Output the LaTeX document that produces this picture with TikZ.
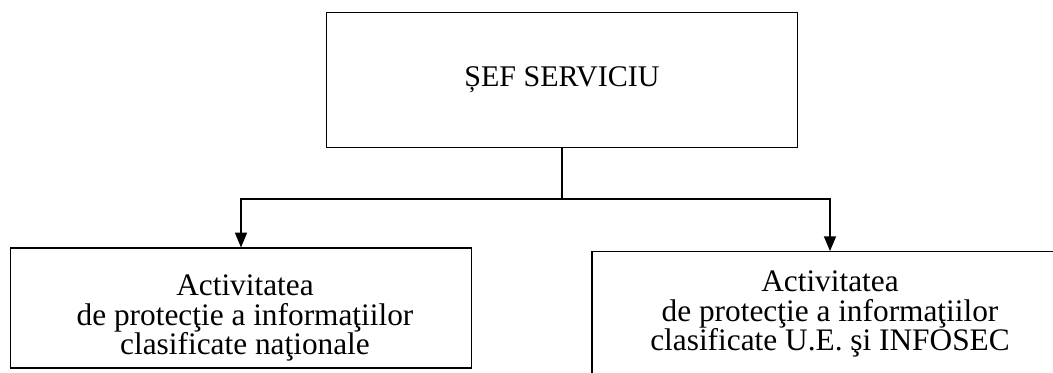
\documentclass[tikz,border=0pt]{standalone}
\usepackage{fontspec}
\setmainfont{Liberation Serif}
\usepackage{tikz}
\usetikzlibrary{arrows.meta,positioning}

\tikzset{
  unitbox/.style={draw, line width=0.9pt, rectangle, align=center, inner sep=0pt},
  unittext/.style={align=center, font=\fontsize{23.5}{21.8}\selectfont},
  link/.style={line width=0.9pt},
  arrowlink/.style={link, -{Triangle[length=11pt,width=9pt]}}
}

\begin{document}
\begin{tikzpicture}[x=0.75pt, y=-0.75pt]
    \useasboundingbox (0,0) rectangle (1053,372);
    \clip (0,0) rectangle (1053,372);
    \node[unitbox, minimum width=353pt, minimum height=101pt, font=\fontsize{22.5}{24}\selectfont] (chief) at (562,80) {ȘEF SERVICIU};

    \node[unitbox, minimum width=346pt, minimum height=90pt] (national) at (241,308) {};
    \node[unittext] (tnational) at (245,318) {Activitatea\\ de protecţie a informaţiilor\\ clasificate naţionale};

    \node[unitbox, minimum width=357pt, minimum height=95pt] (infosec) at (830,315) {};
    \node[unittext] (tinfosec) at (830,314) {Activitatea\\ de protecţie a informaţiilor\\ clasificate U.E. şi INFOSEC};

    \coordinate (split) at (562,199);
    \draw[link] (chief.south) -- (split);
    \draw[arrowlink] (split) -| (national.north);
    \draw[arrowlink] (split) -| (infosec.north);
\end{tikzpicture}
\end{document}
